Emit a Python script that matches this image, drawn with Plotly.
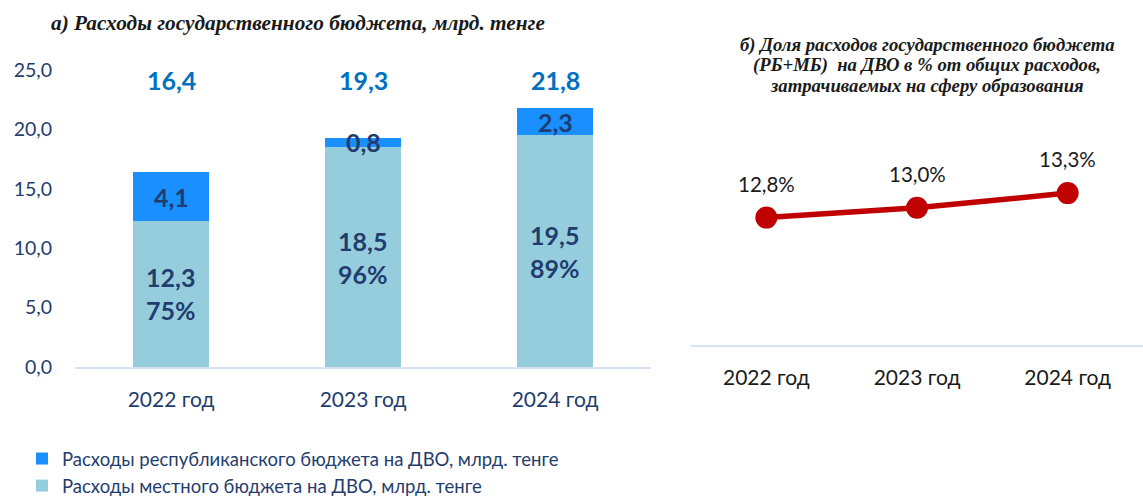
import plotly.graph_objects as go

years = ["2022 год", "2023 год", "2024 год"]
local_budget = [12.3, 18.5, 19.5]
local_share = ["75%", "96%", "89%"]
rep_budget = [4.1, 0.8, 2.3]
totals = [16.4, 19.3, 21.8]
share_pct = [12.8, 13.0, 13.3]
share_labels = ["12,8%", "13,0%", "13,3%"]
y_ticks = [0, 5, 10, 15, 20, 25]

C_LOCAL = "#95CDDD"
C_REP = "#1A8FFF"
C_DARK = "#1F3D6E"
C_TOTAL = "#0070C0"
FONT = "Lato"
W, H = 1143, 497

def fmt(v):
    return f"{v:.1f}".replace(".", ",")

fig = go.Figure()
fig.add_trace(go.Bar(x=years, y=local_budget, name="Расходы местного бюджета на ДВО, млрд. тенге",
                     marker=dict(color=C_LOCAL, line=dict(width=0)), width=0.4,
                     xaxis="x", yaxis="y", hoverinfo="skip"))
fig.add_trace(go.Bar(x=years, y=rep_budget, name="Расходы республиканского бюджета на ДВО, млрд. тенге",
                     marker=dict(color=C_REP, line=dict(width=0)), width=0.4,
                     xaxis="x", yaxis="y", hoverinfo="skip"))
fig.add_trace(go.Scatter(x=years, y=share_pct, mode="lines+markers", showlegend=False,
                         line=dict(color="#C00000", width=5.5),
                         marker=dict(color="#C00000", size=22),
                         xaxis="x2", yaxis="y2", hoverinfo="skip"))

ann = []
for yr, lv, ls, rv, tv in zip(years, local_budget, local_share, rep_budget, totals):
    ann.append(dict(x=yr, y=lv / 2, xref="x", yref="y", text=f"<b>{fmt(lv)}<br>{ls}</b>",
                    showarrow=False, font=dict(family=FONT, size=25, color=C_DARK)))
    ann.append(dict(x=yr, y=lv + rv / 2, xref="x", yref="y", text=f"<b>{fmt(rv)}</b>",
                    showarrow=False, font=dict(family=FONT, size=25, color=C_DARK)))
    ann.append(dict(x=yr, y=24.2, xref="x", yref="y", text=f"<b>{fmt(tv)}</b>",
                    showarrow=False, font=dict(family=FONT, size=25, color=C_TOTAL)))
for yr, v, lab in zip(years, share_pct, share_labels):
    ann.append(dict(x=yr, y=v, xref="x2", yref="y2", text=lab, yshift=34,
                    showarrow=False, font=dict(family=FONT, size=20.5, color="#1a1a1a")))

ann.append(dict(x=298 / W, y=1 - 23 / H, xref="paper", yref="paper", xanchor="center", yanchor="middle",
                text="<b><i>а) Расходы государственного бюджета, млрд. тенге</i></b>", showarrow=False,
                font=dict(family="Liberation Serif", size=21.3, color="#1a1a1a")))
right_title = ["б) Доля расходов государственного бюджета",
               "(РБ+МБ)  на ДВО в % от общих расходов,",
               "затрачиваемых на сферу образования"]
for i, line in enumerate(right_title):
    ann.append(dict(x=927 / W, y=1 - (45 + 20 * i) / H, xref="paper", yref="paper",
                    xanchor="center", yanchor="middle", text=f"<b><i>{line}</i></b>", showarrow=False,
                    font=dict(family="Liberation Serif", size=18.7, color="#1a1a1a")))

fig.update_layout(
    width=W, height=H, barmode="stack", separators=", ",
    paper_bgcolor="white", plot_bgcolor="white",
    margin=dict(l=0, r=0, t=0, b=0, autoexpand=False),
    font=dict(family=FONT, size=18, color=C_DARK),
    annotations=ann,
    legend=dict(x=22 / W, y=1 - 440 / H, xref="container", yref="container",
                xanchor="left", yanchor="top", traceorder="reversed",
                font=dict(family=FONT, size=18.5, color=C_DARK), tracegroupgap=0, itemwidth=30,
                bgcolor="rgba(0,0,0,0)"),
    xaxis=dict(domain=[75 / W, 651 / W], range=[-0.5, 2.5], showline=True, linecolor="#D6E1F1", linewidth=2,
               showgrid=False, ticks="", ticklabelstandoff=13, automargin=False,
               tickfont=dict(family=FONT, size=21, color=C_DARK)),
    yaxis=dict(domain=[1 - 367 / H, 1 - 70 / H], range=[0, 25], tickvals=y_ticks,
               tickformat=".1f", showgrid=False, zeroline=False, showline=False, ticks="",
               ticklabelstandoff=22, automargin=False,
               tickfont=dict(family=FONT, size=19.5, color=C_DARK)),
    xaxis2=dict(domain=[691 / W, 1.0], anchor="y2", range=[-0.5, 2.5], showline=True,
                linecolor="#D6E1F1", linewidth=2, automargin=False,
                showgrid=False, ticks="", ticklabelstandoff=13,
                tickfont=dict(family=FONT, size=21, color="#1a1a1a")),
    yaxis2=dict(domain=[1 - 345 / H, 1 - 100 / H], anchor="x2", range=[10.2, 15.2],
                visible=False, showgrid=False, zeroline=False, automargin=False),
)

fig.write_html("out.html", config={"displayModeBar": False},
               post_script="document.body.style.margin='0';document.body.style.overflow='hidden';")
